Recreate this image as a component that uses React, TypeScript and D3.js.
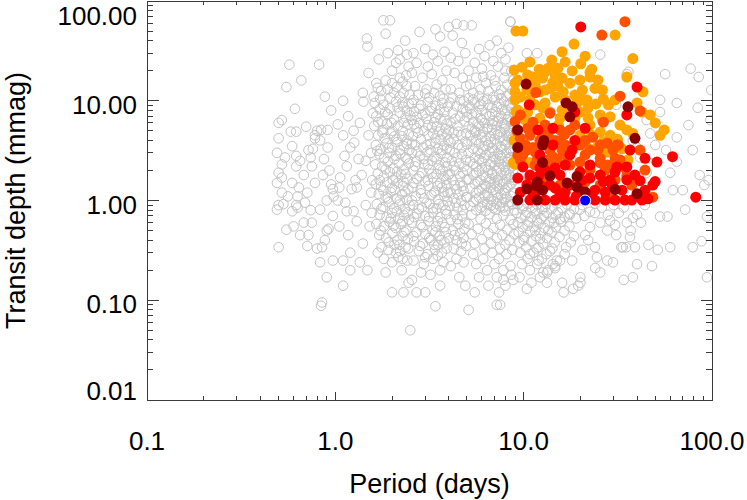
import React from "react";
import * as d3 from "d3";

const xTickValues = [0.1, 1, 10, 100];
const xTickLabels = ["0.1", "1.0", "10.0", "100.0"];
const yTickValues = [0.01, 0.1, 1, 10, 100];
const yTickLabels = ["0.01", "0.10", "1.00", "10.00", "100.00"];

// grey: all candidates [period (days), depth (mmag)]
const greyShortPeriod: [number, number][] = [
[0.57,23],[0.82,23],[0.66,16],[0.55,13.7],[0.88,11],[0.61,8.3],[0.95,8],[0.52,6.4],[0.5,6.0],[0.7,5.5],[0.58,4.9],[0.62,4.9],[0.8,5.0],[0.84,5.1],[0.91,5.1],[0.5,4.2],[0.78,4.2],[0.78,4.5],[0.83,4.0],[0.59,3.5],[0.91,3.4],[0.76,3.3],[0.72,3.2],[0.49,3.0],[0.62,2.8],[0.54,2.7],[0.74,2.7],[0.87,2.6],[0.65,2.5],[0.52,2.3],[0.62,2.2],[0.75,2.2],[0.93,2.0],[0.5,1.9],[0.68,1.8],[0.86,1.8],[0.52,1.7],[0.49,1.5],[0.59,1.5],[0.78,1.5],[0.95,1.45],[0.64,1.35],[0.97,1.3],[0.71,1.2],[0.52,1.2],[0.56,1.1],[0.63,1.1],[0.98,1.1],[0.9,1.0],[0.69,0.95],[0.53,0.92],[0.5,0.9],[0.62,0.9],[0.63,0.85],[0.49,0.81],[0.83,0.81],[0.74,0.8],[0.59,0.78],[0.97,0.7],[0.68,0.6],[0.75,0.6],[0.6,0.55],[0.92,0.52],[0.55,0.51],[0.9,0.5],[0.65,0.45],[0.72,0.45],[0.88,0.4],[0.71,0.35],[0.5,0.34],[0.8,0.33],[0.85,0.34],[0.97,0.25],[0.83,0.24],[0.9,0.17],[0.85,0.095],[0.84,0.088],
[1.47,42],[1.48,35],[1.5,19],[1.4,12],[1.1,10],[1.41,9.8],[1.17,7.0],[1.35,6.0],[1.03,5.8],[1.25,5.0],[1.1,4.5],[1.5,4.5],[1.26,3.8],[1.2,3.4],[1.55,3.0],[1.12,2.8],[1.33,2.6],[1.45,2.5],[1.15,2.2],[1.38,1.8],[1.06,1.7],[1.28,1.6],[1.05,1.35],[1.3,1.35],[1.22,1.3],[1.55,1.2],[1.03,1.0],[1.13,0.95],[1.45,0.9],[1.15,0.78],[1.25,0.78],[1.3,0.62],[1.05,0.55],[1.52,0.55],[1.17,0.45],[1.4,0.37],[1.2,0.3],[1.1,0.25],[1.35,0.24],[1.48,0.2],[1.2,0.2],[1.1,0.14],[1.58,7.5],[1.57,1.6],[1.56,0.75]
];

const greyMidPeriod: [number, number][] = [
[1.8,64],[1.95,64],[1.85,47],[2.15,32],[2.4,29],[1.7,26],[2.2,26],[1.9,30],[2.35,40],[2.1,24],[2.0,20],[2.45,22],[1.65,15],[2.2,17],[1.75,12.5],[1.9,13],[2.3,12],[2.0,15],[2.4,14],[1.6,11],[2.2,11],[1.85,16],[2.05,12],[1.68,13.5],[2.48,11.5],[2.28,15.5],
[1.62,9.5],[1.72,8.2],[1.8,9.1],[1.95,8.4],[2.1,9.8],[2.3,8.7],[2.45,9.3],
[1.65,7.0],[1.76,6.2],[1.9,7.3],[2.05,6.5],[2.2,7.6],[2.36,6.8],[2.5,7.1],
[1.61,5.6],[1.79,5.1],[1.88,5.9],[2.01,5.0],[2.15,5.6],[2.28,5.0],[2.43,5.8],
[1.69,4.5],[1.83,4.2],[1.97,4.7],[2.11,4.1],[2.26,4.4],[2.41,4.0],
[1.64,3.6],[1.74,3.3],[1.87,3.75],[2.0,3.4],[2.13,3.85],[2.31,3.5],[2.47,3.2],
[1.71,2.9],[1.82,2.65],[1.94,3.0],[2.06,2.6],[2.21,2.95],[2.36,2.7],
[1.63,2.3],[1.77,2.2],[1.9,2.45],[2.03,2.1],[2.17,2.35],[2.31,2.05],[2.46,2.35],
[1.68,1.86],[1.81,1.74],[1.95,1.92],[2.09,1.7],[2.24,1.82],[2.4,1.65],
[1.64,1.46],[1.75,1.37],[1.88,1.52],[2.0,1.34],[2.14,1.49],[2.29,1.4],[2.44,1.3],
[1.7,1.16],[1.85,1.09],[1.97,1.21],[2.11,1.05],[2.26,1.16],[2.39,1.02],
[1.66,0.92],[1.79,0.86],[1.92,0.96],[2.05,0.84],[2.19,0.91],[2.34,0.82],[2.48,0.89],
[1.72,0.72],[1.87,0.68],[2.0,0.75],[2.16,0.66],[2.31,0.71],[2.46,0.64],
[1.65,0.58],[1.81,0.55],[1.94,0.61],[2.09,0.53],[2.23,0.58],[2.38,0.5],
[1.71,0.45],[1.86,0.42],[2.01,0.47],[2.13,0.4],[2.28,0.44],[2.43,0.41],
[1.76,0.34],[1.91,0.32],[2.06,0.36],[2.21,0.31],[2.36,0.34],
[1.81,0.26],[2.0,0.24],[2.16,0.27],[2.41,0.25],
[1.85,0.19],[2.25,0.2],[2.45,0.15],[2.0,0.12],[2.3,0.12],[2.5,0.05],
[2.8,49],[3.4,52],[3.6,44],[2.6,30],[3.0,33],[3.3,29],[3.8,31],[2.7,24],[3.1,22],[3.5,25],[3.9,20],[2.55,19],[2.9,17],[3.25,18.5],[3.7,16],[2.65,14],[3.05,13],[3.45,14.5],[3.85,13],[2.75,11.5],[3.15,10.8],[3.6,11.2],
[2.55,9.4],[2.85,9.0],[3.1,9.7],[3.4,8.9],[3.7,9.5],[3.95,8.7],
[2.62,7.8],[2.9,7.2],[3.2,7.9],[3.5,7.3],[3.8,7.7],
[2.55,6.4],[2.8,6.0],[3.05,6.6],[3.35,6.1],[3.62,6.5],[3.9,5.9],
[2.7,5.3],[2.95,5.0],[3.25,5.4],[3.55,4.9],[3.85,5.2],
[2.58,4.4],[2.85,4.1],[3.12,4.5],[3.4,4.2],[3.7,4.6],[3.98,4.0],
[2.66,3.6],[2.93,3.4],[3.2,3.7],[3.5,3.3],[3.78,3.55],
[2.55,3.0],[2.82,2.8],[3.08,3.05],[3.36,2.75],[3.64,2.95],[3.92,2.7],
[2.7,2.45],[2.97,2.3],[3.26,2.5],[3.55,2.25],[3.84,2.4],
[2.6,2.0],[2.87,1.9],[3.15,2.05],[3.44,1.85],[3.72,2.0],[3.98,1.8],
[2.72,1.65],[3.0,1.55],[3.3,1.7],[3.6,1.5],[3.88,1.62],
[2.57,1.35],[2.84,1.28],[3.12,1.4],[3.4,1.25],[3.68,1.35],[3.95,1.2],
[2.68,1.1],[2.96,1.05],[3.24,1.13],[3.52,1.02],[3.8,1.1],
[2.6,0.9],[2.88,0.85],[3.16,0.93],[3.45,0.83],[3.74,0.9],
[2.72,0.74],[3.0,0.7],[3.3,0.76],[3.6,0.68],[3.9,0.73],
[2.56,0.6],[2.84,0.57],[3.12,0.62],[3.42,0.55],[3.7,0.6],
[2.7,0.48],[3.0,0.46],[3.28,0.5],[3.58,0.44],[3.86,0.48],
[2.62,0.39],[2.92,0.37],[3.2,0.4],[3.5,0.36],[3.8,0.38],
[2.78,0.31],[3.08,0.29],[3.38,0.32],[3.68,0.3],
[2.6,0.25],[2.95,0.23],[3.3,0.26],[3.75,0.24],
[2.85,0.19],[3.2,0.18],[3.6,0.2],
[2.7,0.12],[3.0,0.12],[3.4,0.087],[3.6,0.14],[2.55,0.16],
[4.0,55],[4.4,59],[4.8,57],[4.2,45],[4.7,38],[4.1,27],[4.5,25],[4.9,30],[4.3,19],[4.75,17],[4.1,13],[4.55,12],[4.95,14],
[4.05,9.6],[4.4,8.8],[4.8,9.9],[4.2,7.6],[4.6,7.0],[4.95,7.8],[4.1,6.0],[4.45,5.6],[4.85,6.2],[4.25,4.8],[4.65,4.5],[4.02,5.1],
[4.1,3.8],[4.5,3.6],[4.9,3.9],[4.3,3.0],[4.7,2.9],[4.05,3.2],[4.15,2.5],[4.55,2.35],[4.95,2.55],[4.35,2.0],[4.75,1.9],[4.05,1.85],
[4.2,1.6],[4.6,1.5],[4.98,1.62],[4.4,1.3],[4.8,1.25],[4.1,1.2],[4.25,1.05],[4.65,1.0],[4.95,1.08],[4.05,0.88],[4.45,0.85],[4.85,0.9],
[4.3,0.72],[4.7,0.7],[4.1,0.64],[4.5,0.58],[4.9,0.6],[4.2,0.5],[4.6,0.47],[4.0,0.42],[4.4,0.4],[4.8,0.42],[4.25,0.33],[4.65,0.31],[4.95,0.35],
[4.4,0.26],[4.8,0.24],[4.1,0.22],[4.55,0.17],[4.9,0.14]
];

const greyMidExtra: [number, number][] = [
[1.73,10.5],[2.12,13.8],[2.38,18],[1.96,10.8],[2.27,9.6],[1.84,7.7],[2.4,7.9],[2.14,8.6],[1.69,6.1],[2.31,6.0],[1.99,6.0],[2.45,4.6],[1.78,4.8],[2.06,4.4],[1.92,3.35],[2.2,3.2],[2.4,3.7],[1.67,3.15],[2.1,2.8],[2.42,2.6],[1.85,2.05],[2.13,1.95],[2.35,1.85],[1.72,1.6],[2.02,1.6],[2.3,1.55],[1.8,1.26],[2.07,1.27],[2.35,1.22],[1.9,1.05],[2.2,1.0],[1.75,0.82],[2.12,0.78],[2.42,0.76],[1.97,0.66],[2.27,0.62],[1.74,0.5],[2.04,0.56],[2.33,0.48],[1.92,0.38],[2.19,0.36],[2.44,0.33],[1.68,0.3],[2.1,0.3],[2.28,0.26],
[2.6,10.2],[3.0,11.8],[3.35,12],[3.75,10.5],[2.8,8.3],[3.25,8.5],[3.6,8.2],[2.7,6.9],[3.0,7.5],[3.4,6.8],[3.8,6.5],[2.62,5.8],[3.1,5.7],[3.45,5.5],[3.9,4.6],[2.75,4.8],[3.3,4.7],[3.62,4.1],[2.55,3.7],[3.05,3.6],[3.4,3.75],[3.9,3.3],[2.7,3.1],[3.2,3.2],[3.7,3.2],[2.95,2.6],[3.45,2.6],[3.9,2.2],[2.65,2.2],[3.1,2.3],[3.6,2.05],[2.8,1.75],[3.25,1.85],[3.75,1.75],[2.6,1.5],[3.1,1.6],[3.5,1.4],[3.9,1.42],[2.85,1.18],[3.35,1.2],[3.75,1.22],[2.55,1.0],[3.05,0.95],[3.55,0.92],[3.95,0.98],[2.78,0.82],[3.3,0.84],[3.85,0.8],[2.62,0.68],[3.15,0.68],[3.5,0.62],[2.9,0.54],[3.4,0.48],[3.8,0.54],[2.6,0.44],[3.15,0.42],[3.65,0.4],[2.82,0.35],[3.35,0.36],[3.9,0.33],[3.0,0.27],[3.5,0.28],
[4.2,10.8],[4.6,10.2],[4.35,6.6],[4.75,8.3],[4.5,4.9],[4.95,4.7],[4.25,4.1],[4.7,3.4],[4.45,2.7],[4.85,2.2],[4.25,2.2],[4.6,1.75],[4.3,1.42],[4.75,1.4],[4.5,1.15],[4.35,0.95],[4.75,0.8],[4.45,0.65],[4.85,0.52],[4.3,0.45],[4.7,0.37]
];

const greyDenseCore: [number, number][] = [
[5.3,57],[8.5,62],[6.6,36],[7.2,40],[5.8,33],[6.2,28],[7.6,30],[8.3,34],[5.5,24],[6.9,25],[8.0,26],[5.1,20],[6.0,21],[7.3,22],[8.6,20],[5.6,17],[6.7,18],[7.9,17],[8.8,16],[5.2,14.5],[6.3,15],[7.1,14],[8.2,14.5],[5.9,13],[7.6,12.8],[6.5,12.5],[8.7,12.8],[5.4,12],[7.0,16],[8.0,20],[6.1,17.5],[8.4,11.5],
[5.8,11.1],[6.9,10.9],[8.1,11.2],[5.1,10.6],[7.4,11.6],
[6.1,9.9],[7.0,10.2],[7.9,9.8],[8.8,10.1],[5.5,9.6],
[6.5,9.1],[7.4,9.3],[8.4,9.0],[5.1,9.0],[5.9,9.3],
[5.2,8.3],[6.0,8.1],[6.8,8.5],[7.7,8.2],[8.6,8.4],
[5.6,7.6],[6.3,7.3],[7.1,7.7],[8.0,7.4],[8.9,7.6],
[5.0,6.9],[5.9,6.7],[6.6,7.0],[7.4,6.7],[8.3,6.9],
[5.4,6.1],[6.2,6.0],[6.9,6.3],[7.7,6.0],[8.6,6.2],
[5.1,5.5],[5.8,5.6],[6.5,5.4],[7.2,5.6],[8.0,5.5],[8.9,5.4],
[5.5,5.0],[6.1,4.9],[6.8,5.1],[7.5,4.9],[8.4,5.0],
[5.2,4.5],[5.9,4.6],[6.6,4.4],[7.3,4.6],[8.1,4.5],[8.8,4.4],
[5.6,4.05],[6.3,4.0],[7.0,4.1],[7.8,4.0],[8.6,4.1],
[5.0,3.65],[5.8,3.7],[6.5,3.6],[7.2,3.7],[8.0,3.6],[8.9,3.7],
[5.4,3.3],[6.1,3.25],[6.8,3.35],[7.6,3.25],[8.4,3.3],
[5.1,3.0],[5.9,2.95],[6.6,3.05],[7.3,2.95],[8.1,3.0],[8.8,3.05],
[5.5,2.7],[6.2,2.68],[6.9,2.74],[7.7,2.67],[8.5,2.72],
[5.2,2.45],[6.0,2.47],[6.7,2.42],[7.4,2.48],[8.2,2.43],[8.9,2.46],
[5.6,2.2],[6.3,2.18],[7.0,2.23],[7.9,2.19],[8.7,2.21],
[5.0,2.0],[5.8,1.98],[6.5,2.02],[7.2,1.97],[8.0,2.01],[8.8,1.99],
[5.4,1.8],[6.1,1.78],[6.8,1.82],[7.6,1.79],[8.4,1.81],
[5.1,1.62],[5.9,1.6],[6.6,1.64],[7.3,1.61],[8.1,1.63],[8.9,1.6],
[5.5,1.47],[6.2,1.45],[7.0,1.48],[7.8,1.46],[8.6,1.48],
[5.2,1.33],[6.0,1.31],[6.7,1.34],[7.4,1.32],[8.2,1.34],
[5.6,1.2],[6.4,1.19],[7.1,1.21],[7.9,1.19],[8.8,1.2],
[5.0,1.08],[5.8,1.07],[6.5,1.09],[7.3,1.07],[8.1,1.08],
[5.4,0.97],[6.1,0.96],[6.9,0.98],[7.7,0.96],[8.5,0.97],
[5.2,0.88],[6.0,0.87],[6.7,0.89],[7.5,0.87],[8.3,0.88],
[5.6,0.8],[6.3,0.79],[7.1,0.81],[8.0,0.79],[8.9,0.8],
[5.3,0.72],[6.6,0.73],[7.8,0.71],[5.9,0.65],[7.2,0.66],[8.5,0.64],[5.1,0.58],[6.3,0.59],[7.5,0.57],[8.8,0.58],[5.7,0.52],[6.9,0.53],[8.2,0.51],[5.3,0.46],[6.5,0.47],[7.7,0.45],[8.9,0.46],[6.0,0.41],[7.2,0.42],[8.4,0.4],[5.5,0.37],[6.7,0.37],[8.0,0.36],[6.2,0.33],[7.5,0.33],[8.7,0.32],[5.4,0.29],[6.8,0.3],[8.1,0.29],[6.1,0.26],[7.4,0.26],[5.6,0.23],[7.0,0.23],[8.5,0.22],[6.4,0.2],[7.8,0.2],[5.8,0.17],[7.2,0.17],[8.6,0.18],[6.5,0.14],[8.0,0.14],[5.5,0.12],[7.4,0.12],[5.1,0.08],[7.2,0.09],
[5.4,10.3],[6.4,10.5],[7.6,10.6],[8.5,9.4],[5.8,8.8],[7.2,8.7],[8.2,8.0],[5.3,7.3],[6.8,7.4],[7.6,7.0],[6.0,6.4],[7.3,6.2],[8.2,6.5],[5.7,5.9],[6.8,5.8],[7.9,5.8],[5.3,5.2],[6.4,5.2],[7.9,5.2],[5.6,4.8],[7.0,4.7],[8.5,4.75],[6.0,4.3],[7.5,4.3],[8.3,4.3],[5.3,3.9],[6.7,3.85],[8.2,3.85],[6.2,3.5],[7.6,3.45],[5.7,3.15],[7.0,3.15],[8.6,3.15],[6.3,2.85],[7.5,2.82],[5.8,2.58],[7.1,2.58],[8.3,2.6],[5.4,2.32],[6.6,2.3],[7.6,2.32],[6.0,2.1],[7.4,2.1],[8.4,2.08],[5.6,1.9],[6.8,1.9],[8.1,1.88],[6.3,1.7],[7.1,1.7],[8.6,1.7],[5.7,1.55],[6.6,1.54],[7.5,1.55],[6.3,1.39],[7.2,1.4],[8.4,1.41],[5.8,1.26],[6.9,1.27],[8.0,1.27],[6.2,1.13],[7.6,1.14],[8.5,1.12],[5.6,1.02],[6.7,1.03],[7.9,1.02],[6.4,0.92],[7.2,0.93],[8.7,0.92],[5.9,0.84],[6.9,0.84],[7.8,0.85]
];

const greyLongPeriod: [number, number][] = [
[9.3,0.92],[10.5,0.93],[11.8,0.91],[13.2,0.92],[15,0.93],[17,0.91],
[9.8,0.83],[11.1,0.84],[12.5,0.82],[14.1,0.83],[16,0.84],[18.5,0.82],
[9.2,0.75],[10.4,0.76],[11.7,0.74],[13.3,0.75],[15.2,0.76],[17.5,0.74],
[9.7,0.67],[11.0,0.68],[12.4,0.66],[14.2,0.67],[16.5,0.68],[19,0.66],
[9.3,0.6],[10.6,0.61],[12.0,0.59],[13.7,0.6],[15.8,0.61],
[9.9,0.54],[11.3,0.55],[12.9,0.53],[14.8,0.54],[17.5,0.55],
[9.4,0.48],[10.8,0.49],[12.3,0.47],[14.1,0.48],
[10.1,0.43],[11.6,0.44],[13.3,0.42],[15.5,0.43],[18.5,0.44],
[9.5,0.38],[11.0,0.39],[12.7,0.37],
[10.3,0.34],[12.0,0.34],[14.2,0.33],[16.8,0.34],
[9.6,0.3],[11.3,0.3],[13.2,0.29],
[10.5,0.26],[12.5,0.26],[15,0.25],
[9.8,0.23],[11.8,0.23],[14.3,0.23],
[10.8,0.2],[13.5,0.2],[9.5,0.17],[12.2,0.17],[11,0.15],[13.3,0.15],[16,0.15],
[12.7,0.19],[14.7,0.21],[16.3,0.12],[18.3,0.13],[10.4,0.13],[7.8,0.16],[8.8,0.16],[7.5,0.09],
[19.9,0.81],[17.6,0.72],[15.6,0.65],[18.1,0.25],[15.6,0.25],[14.7,0.22],[13.3,0.19],[20,0.17],[20,0.15],[19.5,0.14],
[10.0,0.88],[11.5,0.79],[13.0,0.86],[14.8,0.72],[10.2,0.71],[12.8,0.7],[11.8,0.63],[14.5,0.6],[10.5,0.56],[13.5,0.5],[11.5,0.5],[16.5,0.5],[10.0,0.4],[12.2,0.41],[14.6,0.38],[17.8,0.38],[11.7,0.33],[13.8,0.31],[10.8,0.29],[16.5,0.29],[12,0.25],
[20.5,0.9],[22.5,0.77],[24,0.93],[21,0.7],[23.9,0.75],[26,0.85],[28,0.72],[25.5,0.6],[22.5,0.54],[30,0.9],[32,0.75],[27.8,0.5],[28.8,0.63],[30.6,0.57],[35.3,0.6],[38,0.67],[40,0.72],[36.7,0.43],[33.6,0.34],[39,0.34],[46,0.36],[51.5,0.32],[60,0.34],[21.2,0.45],[22,0.4],[20.5,0.32],[23.9,0.34],[24.5,0.27],[27.8,0.25],[29.8,0.24],[25.5,0.19],[24,0.21],[34,0.16],[38,0.17],[40,0.23],[48,0.22],[35,0.34],[33,0.34],[53,0.69],[58,0.69],[72,0.81],[94,0.69],[88,0.39],[79,0.34],[44,0.9],[42,0.6],[34,0.85],[94,0.17],[37,0.5],[31,0.45],
[8.5,62],[10.4,30],[11.8,30],[25.5,29],[35.3,18.5],[36,19.5],[56.4,18.5],[77,21],[85,17.3],[99,12.8],[65,9.5],[84,8.5],[53,10.2],[53,7.7],[45,6.4],[31,9.1],[65,4.3],[79,3.2],[86,1.8],[91,1.43],[62,1.27],[70,1.27],[41.5,2.7],[47,4.7],[40,3.4],[38,4.0],[57,3.2],[75,5.7],[50,3.6],[65,2.45],[96,1.6],[98,6.4],[60,1.9],[45,1.9]
];

const orangePoints: [number, number][] = [
[9.1,50],[9.9,50],[18.5,37],[16.0,31],[21.2,28],[20.1,23.5],[30.6,45.6],[38,26.5],[9.8,21.7],[12.1,20.7],[13.5,21.2],[15.2,21.2],[18.1,19.9],[23,20.7],[22.5,19.3],[9.3,16.1],[11.2,17.3],[12.6,16.9],[14.3,15.3],[16.0,16.9],[19.9,16.1],[22.5,17.3],[35.3,17.3],[17.6,15.0],[9.0,12.3],[10.4,12.8],[12.2,12.3],[13.8,13.3],[16.2,12.3],[18.7,11.4],[20.5,12.8],[23.9,13.3],[26.2,12.8],[43,12.3],[9.0,10.2],[10.8,10.2],[13.0,9.5],[14.7,10.9],[19.2,9.5],[21.7,10.2],[26.5,10.4],[40,9.5],[9.3,8.1],[10.5,7.7],[12.6,8.5],[16,8.1],[19.9,7.7],[22,8.5],[28.8,6.9],[42.5,7.7],[25.5,7.2],[26.2,6.4],[35.3,5.1],[38,4.7],[50,6.0],[55.7,5.1],[22.5,5.7],[15.6,6.7],[25.5,4.85],[21.7,3.4],[24.5,3.4],[19.9,4.5],[33.3,3.3],[28.8,4.5],[35.8,2.55],[27.8,3.05],[8.8,2.4],[35.3,1.66],[10.8,24.5],[14.1,25.6],[16.6,24.5],[13.0,19.5],[10.5,18.1],[14.7,18.1],[11.5,14.4],[13.0,12.8],[15.2,14.0],[9.6,10.9],[16.6,10.2],[11.5,9.1],[17.6,8.5],[13.8,7.7],[10.2,6.4],[12.2,6.7],[18.7,6.7],[22,6.7],[20.5,10.2],[24.2,9.3],[8.9,20.3],[9.0,15.0],[24.8,16.1],[28.2,9.1],[32.5,5.7],[30.6,10.2],[23,4.5],[47,7.2],[53,4.5],[15.3,5.7],[9.1,7.7],[10.8,2.4],[9.0,2.3],[8.9,4.0],[26.5,3.9],[31.5,4.1]
];

const orangeRedPoints: [number, number][] = [
[26,45.6],[34.5,62],[11.6,12.1],[32.5,11.1],[13.8,7.5],[41.5,7.9],[9.0,6.2],[11.2,6.1],[26.5,6.1],[9.6,4.2],[10.8,4.5],[15.6,4.0],[23.3,4.3],[27.8,3.75],[31.3,3.6],[9.3,2.86],[11.5,3.05],[13.8,3.2],[16.6,2.86],[21.2,2.86],[29.8,3.2],[9.6,2.55],[11.5,2.27],[13.5,2.55],[19.9,2.43],[25.5,2.38],[34.5,2.12],[44.1,2.02],[35.3,1.77],[13.0,1.68],[21.2,1.53],[30.6,1.61],[48.5,1.08],[29.5,1.05],[10.5,5.3],[13,5.7],[18.7,5.7],[15.6,5.1],[12.2,4.0],[19.9,3.6],[25.5,3.6],[10.2,3.6],[14.7,2.55],[17.6,2.27],[22.5,2.02],[27.1,2.02],[10.8,1.68],[32.5,2.55],[41.5,3.2],[10.4,3.2],[11.8,2.55],[13.2,2.27],[14.3,2.75],[22.5,2.2],[28,2.27],[30.6,2.65],[31.8,3.6],[17.6,3.2],[22.5,3.2],[15.6,1.43],[25.5,1.43],[37.5,1.43],[9.6,7.2],[9.2,5.0],[12.5,4.8],[16.5,4.6],
[14.7,4.0],[16.6,3.6],[24.8,3.2],[21.2,4.0],[13.5,4.5],[16.0,3.2],[15.0,2.6],[25.5,2.65],[11.2,3.4],[9.9,2.86],[9.6,3.6],[17.6,5.1]
];

const redPoints: [number, number][] = [
[20.1,55],[40,13.7],[10.7,9.1],[18.7,7.7],[35.3,7.2],[14.3,5.3],[11.9,5.1],[21.2,5.3],[18.7,4.0],[12.2,2.86],[18.1,3.2],[44.1,2.65],[51,2.43],[61.7,2.75],[31.3,2.17],[35.3,2.17],[9.9,2.17],[14.7,2.12],[16.6,2.27],[22.5,2.27],[41.5,1.58],[49.9,1.55],[9.3,1.68],[10.8,1.8],[15.6,1.8],[22.5,1.68],[25.5,1.8],[28.8,1.61],[35.3,1.61],[9.6,1.21],[11.5,1.21],[14.7,1.33],[16.6,1.21],[23.9,1.27],[27.1,1.21],[33.3,1.27],[44.1,1.27],[48.5,1.43],[10.8,1.01],[13.0,1.01],[14.7,1.01],[16.6,1.01],[18.7,1.01],[23.9,1.01],[27.1,1.01],[30.6,1.01],[34.5,1.01],[37.5,1.01],[42.5,1.01],[82,1.08],[45.7,1.04],[13.8,1.43],[17.6,1.43],[19.9,1.27],[12.2,1.43],[22.5,1.14],[29.5,1.43],[10.4,1.43],[13,2.02],[19.9,1.94],[15.6,1.14],[30.6,1.94],[39,1.8],[12.2,2.12],[14.3,3.6],[36.7,3.2],[17.6,2.86],[20.5,1.6],[12.0,1.75],[26.5,1.55],[19.0,1.1],[21.0,1.05],[11.2,1.1]
];

const darkRedPoints: [number, number][] = [
[10.3,14.7],[16.8,9.5],[18.1,8.7],[17.6,6.9],[35.8,8.7],[9.3,5.1],[12.8,4.0],[12.6,3.6],[39,4.2],[9.3,3.4],[12.6,2.4],[13.8,1.77],[19.2,1.74],[11.8,1.53],[17.0,1.5],[10.4,1.31],[12.6,1.27],[19.2,1.36],[30.6,1.29],[40,1.17],[21.2,1.22],[9.3,1.01],[11.8,1.01],[11.7,1.4]
];

const bluePoints: [number, number][] = [[21.2, 1.0]];

const W = 747;
const H = 500;
const plot = { left: 147, right: 712, top: 1, bottom: 400 };
const FONT = "'Liberation Sans', Arial, Helvetica, sans-serif";

export default function App() {
  const x = d3.scaleLog().domain([0.1, 100]).range([plot.left, plot.right]);
  const y = d3.scaleLog().domain([0.01, 100]).range([plot.bottom, plot.top]);

  const minorX: number[] = [];
  for (let i = 0; i < xTickValues.length - 1; i++)
    for (let k = 2; k <= 9; k++) minorX.push(xTickValues[i] * k);
  const minorY: number[] = [];
  for (let i = 0; i < yTickValues.length - 1; i++)
    for (let k = 2; k <= 9; k++) minorY.push(yTickValues[i] * k);

  const grey = [...greyShortPeriod, ...greyMidPeriod, ...greyMidExtra, ...greyDenseCore, ...greyLongPeriod];
  const axisColor = "#3a3a3a";
  const xMaj = 8, xMin = 4, yMaj = 11.5, yMin = 6;

  const filled = (pts: [number, number][], color: string, key: string, stroke = "none") =>
    pts.map((p, i) => (
      <circle key={key + i} cx={x(p[0])} cy={y(p[1])} r={5.5} fill={color} stroke={stroke} strokeWidth={stroke === "none" ? 0 : 1} />
    ));

  return (
    <svg width={W} height={H} style={{ position: "absolute", left: 0, top: 0, background: "#fff" }}>
      <defs>
        <clipPath id="plotClip">
          <rect x={plot.left} y={plot.top} width={plot.right - plot.left} height={plot.bottom - plot.top} />
        </clipPath>
      </defs>
      <rect x={0} y={0} width={W} height={H} fill="#fff" />
      <g clipPath="url(#plotClip)">
        {grey.map((p, i) => (
          <circle key={"g" + i} cx={x(p[0])} cy={y(p[1])} r={4.8} fill="none" stroke="#c4c4c4" strokeWidth={1} />
        ))}
        {filled(orangePoints, "#FFA500", "o")}
        {filled(orangeRedPoints, "#FF5000", "or")}
        {filled(redPoints, "#FF0000", "r")}
        {filled(darkRedPoints, "#8B0000", "dr")}
        {filled(bluePoints, "#0000FF", "b", "#ffffff")}
      </g>
      <g stroke={axisColor} strokeWidth={1} shapeRendering="crispEdges" fill="none">
        <rect x={plot.left} y={plot.top} width={plot.right - plot.left} height={plot.bottom - plot.top} />
        {xTickValues.map((v, i) => (
          <g key={"xm" + i}>
            <line x1={x(v)} x2={x(v)} y1={plot.bottom} y2={plot.bottom - xMaj} />
            <line x1={x(v)} x2={x(v)} y1={plot.top} y2={plot.top + xMaj} />
          </g>
        ))}
        {minorX.map((v, i) => (
          <g key={"xn" + i}>
            <line x1={x(v)} x2={x(v)} y1={plot.bottom} y2={plot.bottom - xMin} />
            <line x1={x(v)} x2={x(v)} y1={plot.top} y2={plot.top + xMin} />
          </g>
        ))}
        {yTickValues.map((v, i) => (
          <g key={"ym" + i}>
            <line x1={plot.left} x2={plot.left + yMaj} y1={y(v)} y2={y(v)} />
            <line x1={plot.right} x2={plot.right - yMaj} y1={y(v)} y2={y(v)} />
          </g>
        ))}
        {minorY.map((v, i) => (
          <g key={"yn" + i}>
            <line x1={plot.left} x2={plot.left + yMin} y1={y(v)} y2={y(v)} />
            <line x1={plot.right} x2={plot.right - yMin} y1={y(v)} y2={y(v)} />
          </g>
        ))}
      </g>
      <g fontFamily={FONT} fontSize={26} fill="#000">
        {xTickValues.map((v, i) => (
          <text key={"xl" + i} x={x(v)} y={450} textAnchor="middle">{xTickLabels[i]}</text>
        ))}
        {yTickValues.map((v, i) => (
          <text key={"yl" + i} x={137} y={Math.min(Math.max(y(v) + 13, plot.top + 24), plot.bottom)} textAnchor="end">
            {yTickLabels[i]}
          </text>
        ))}
      </g>
      <text x={(plot.left + plot.right) / 2} y={493} textAnchor="middle" fontFamily={FONT} fontSize={27} fill="#000">
        Period (days)
      </text>
      <text transform={`translate(24.5, ${(plot.top + plot.bottom) / 2}) rotate(-90)`} textAnchor="middle" fontFamily={FONT} fontSize={27} fill="#000">
        Transit depth (mmag)
      </text>
    </svg>
  );
}
